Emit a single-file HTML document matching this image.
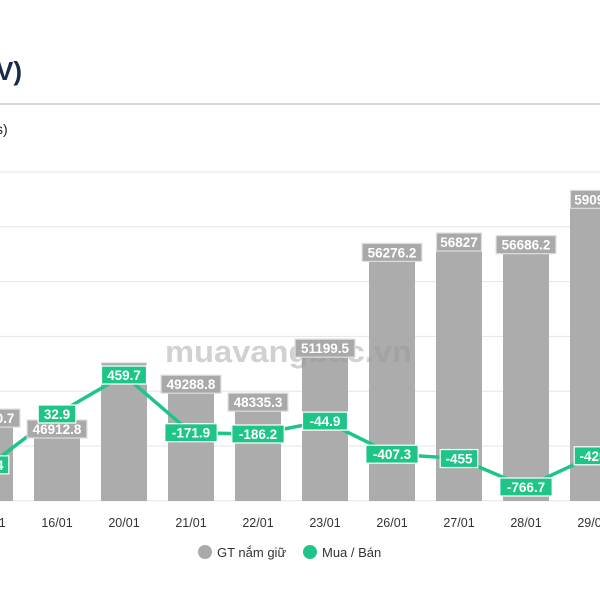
<!DOCTYPE html>
<html><head><meta charset="utf-8"><style>
body{margin:0;background:#fff;width:600px;height:600px;overflow:hidden;font-family:"Liberation Sans",sans-serif}
</style></head><body>
<svg id="c" width="600" height="600" viewBox="0 0 600 600">
<text x="-4" y="80" font-size="26" font-weight="bold" fill="#1a2a4a">V)</text>
<line x1="0" y1="104" x2="600" y2="104" stroke="#c8c8c8" stroke-width="1.5"/>
<text x="-4" y="134" font-size="14" fill="#222">s)</text>
<g id="grid"></g>
<g id="bars"></g>
<text x="165" y="362" font-size="31" font-weight="bold" fill="#999" fill-opacity="0.45" textLength="247" lengthAdjust="spacingAndGlyphs">muavangbac.vn</text>
<g id="line"></g><g id="labels"></g>
<g>
<circle cx="205" cy="552" r="7" fill="#aaa"/>
<text x="217" y="557" font-size="13" fill="#333">GT nắm giữ</text>
<circle cx="310" cy="552" r="7" fill="#1fc587"/>
<text x="322" y="557" font-size="13" fill="#333">Mua / Bán</text>
</g>
</svg>
<script>
const categories=["15/01","16/01","20/01","21/01","22/01","23/01","26/01","27/01","28/01","29/01"];
const holdings=[47490.7,46912.8,49950,49288.8,48335.3,51199.5,56276.2,56827,56686.2,59090];
const holdingLabels=["47490.7","46912.8","49950","49288.8","48335.3","51199.5","56276.2","56827","56686.2","59090"];
const buySell=[-524,32.9,459.7,-171.9,-186.2,-44.9,-407.3,-455,-766.7,-425];
const gridYs=[0,1,2,3,4,5,6];
const NS="http://www.w3.org/2000/svg";
function mk(t,a,p){const e=document.createElementNS(NS,t);for(const k in a)e.setAttribute(k,a[k]);p.appendChild(e);return e;}
const xC=i=>-10+i*67;
const yL=v=>501-(v-42618)*0.01886;
const yR=v=>417-v*0.0913;
const g=document.getElementById('grid');
gridYs.forEach(k=>{const l=mk('line',{x1:0,x2:600,y1:172+k*54.8,y2:172+k*54.8,stroke:'#e6e6e6','stroke-width':1},g);

});
const bg=document.getElementById('bars'),lg=document.getElementById('labels'),ln=document.getElementById('line');
function box(x,y,txt,fill,stroke,name){
 const w=txt.length*7.4+8;
 const r=mk('rect',{x:x-w/2,y:y-9,width:w,height:18,fill:fill,stroke:stroke,'stroke-width':1.2},lg);
 
 
 const t=mk('text',{x:x,y:y+5,'text-anchor':'middle','font-size':13.5,'font-weight':'bold',fill:'#fff'},lg);
 t.textContent=txt;
 
 
}
categories.forEach((c,i)=>{
 const y=yL(holdings[i]);
 const b=mk('rect',{x:xC(i)-23,y:y,width:46,height:501-y,fill:'#acacac'},bg);
 
 
 const t=mk('text',{x:xC(i),y:527,'text-anchor':'middle','font-size':12.5,fill:'#333'},bg);
 t.textContent=c;
 
 
});
categories.forEach((c,i)=>box(xC(i),yL(holdings[i])+9,holdingLabels[i],'#a9a9a9','#ddd','holding-label'));
const pts=buySell.map((v,i)=>xC(i)+','+yR(v)).join(' ');
const pl=mk('polyline',{points:pts,fill:'none',stroke:'#1fc587','stroke-width':3.5,'stroke-linejoin':'round'},ln);


buySell.forEach((v,i)=>box(xC(i),yR(v),String(v),'#1fc587','#fff','buy-sell-label'));
</script>
</body></html>
